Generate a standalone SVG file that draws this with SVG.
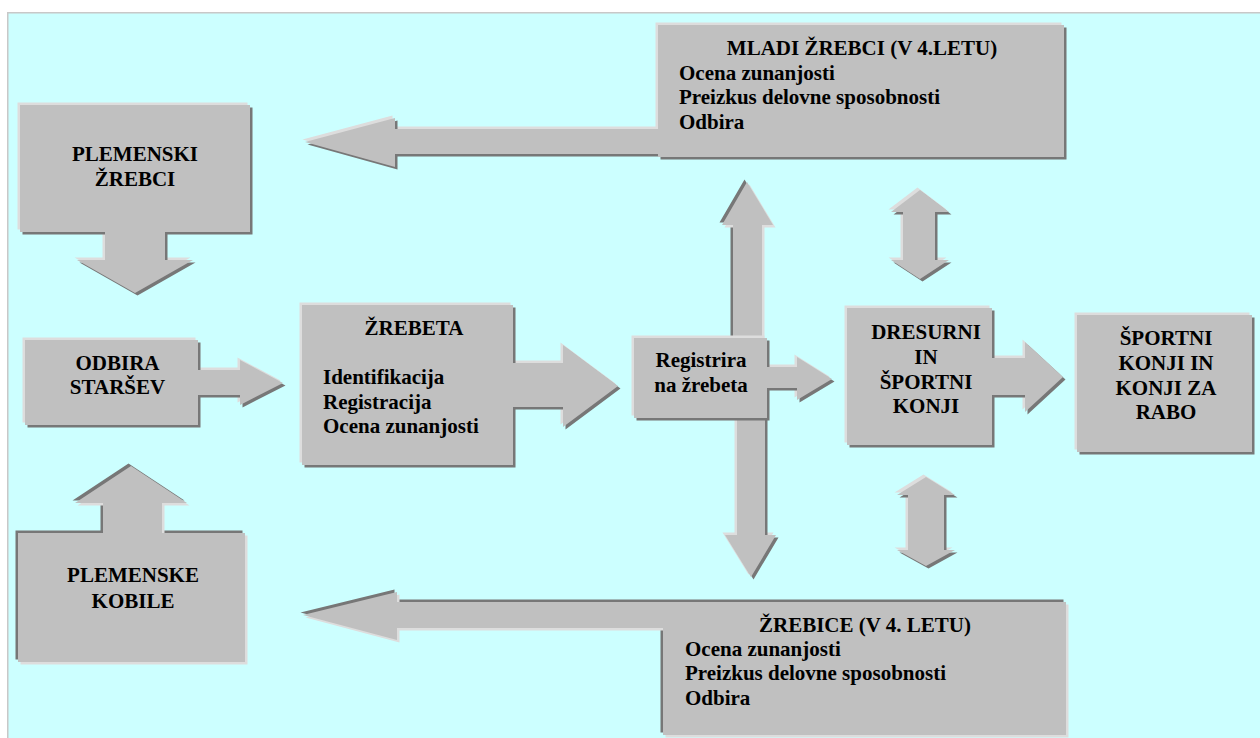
<svg xmlns="http://www.w3.org/2000/svg" xmlns:xlink="http://www.w3.org/1999/xlink" width="1260" height="738" viewBox="0 0 1260 738" font-family="'Liberation Serif', 'Times New Roman', 'DejaVu Serif', serif">
<style>
.fc{fill:#C0C0C0}
.dk{fill:#777777}
.lt{fill:#DDDDDD}
.t{font-family:'Liberation Serif','Times New Roman','DejaVu Serif',serif;font-weight:bold;font-size:21px;fill:#000}
.c{text-anchor:middle}
</style>
<defs>
<path id="p-zrebci" d="M20,105 H250 V232 H165 V260 H193 L135,293 L77,260 H105 V232 H20 Z"/>
<path id="p-odbira" d="M25,340 H198 V370 H240 V360 L283,383 L240,405 V395 H198 V425 H25 Z"/>
<path id="p-kobile" d="M18,533 H103 V503 H75 L131,466 L187,503 H162 V533 H245 V662 H18 Z"/>
<path id="p-zrebeta" d="M302,305 H513 V363 H563 V345 L618,386 L563,427 V407 H513 V465 H302 Z"/>
<path id="p-reg" d="M634,338 H767 V367 H797 V357 L832,379 L797,400 V388 H767 V418 H634 Z"/>
<path id="p-dres" d="M847,308 H992 V358 H1025 V342 L1063,377 L1025,412 V395 H992 V445 H847 Z"/>
<path id="p-sport" d="M1077,315 H1252 V452 H1077 Z"/>
<path id="p-mladi" d="M658,25 H1064 V157 H658 V154 H395 V167 L305,142 L395,118 V129 H658 Z"/>
<path id="p-zrebice" d="M663,602 H1066 V735 H663 V628 H397 V640 L303,615 L397,592 V602 H663 Z"/>
<path id="a-up" d="M733,385 V225 H722 L747,182 L773,225 H762 V385 Z"/>
<path id="a-down" d="M737,375 V535 H725 L751,577 L776,535 H765 V375 Z"/>
<path id="a-dbl1" d="M920,190 L949,212 H935 V260 H949 L920,279 L891,260 H903 V212 H891 Z"/>
<path id="a-dbl2" d="M926,477 L955,495 H944 V550 H955 L926,566 L897,550 H908 V495 H897 Z"/>
</defs>

<rect x="0" y="0" width="1260" height="738" fill="#FFFFFF"/>
<rect x="7.75" y="12.75" width="1262" height="740" fill="#CCFFFF" stroke="#C8C8C8" stroke-width="1.5"/>

<g id="connectors">
  <g id="arrow-up-mladi">
    <use xlink:href="#a-up" class="dk" transform="translate(-2.5,-2.5)"/>
    <use xlink:href="#a-up" class="lt" transform="translate(2.5,2.5)"/>
    <use xlink:href="#a-up" class="fc"/>
  </g>
  <g id="arrow-down-zrebice">
    <use xlink:href="#a-down" class="lt" transform="translate(-2.5,-2.5)"/>
    <use xlink:href="#a-down" class="dk" transform="translate(2.5,2.5)"/>
    <use xlink:href="#a-down" class="fc"/>
  </g>
  <g id="arrow-dbl-upper">
    <use xlink:href="#a-dbl1" class="lt" transform="translate(-2.5,-2.5)"/>
    <use xlink:href="#a-dbl1" class="dk" transform="translate(2.5,2.5)"/>
    <use xlink:href="#a-dbl1" class="fc"/>
  </g>
  <g id="arrow-dbl-lower">
    <use xlink:href="#a-dbl2" class="lt" transform="translate(-2.5,-2.5)"/>
    <use xlink:href="#a-dbl2" class="dk" transform="translate(2.5,2.5)"/>
    <use xlink:href="#a-dbl2" class="fc"/>
  </g>
</g>

<g id="plemenski-zrebci">
  <use xlink:href="#p-zrebci" class="lt" transform="translate(-2.5,-2.5)"/>
  <use xlink:href="#p-zrebci" class="dk" transform="translate(2.5,2.5)"/>
  <use xlink:href="#p-zrebci" class="fc"/>
  <text class="t c" x="135" y="161">PLEMENSKI</text>
  <text class="t c" x="135" y="186">ŽREBCI</text>
</g>

<g id="odbira-starsev">
  <use xlink:href="#p-odbira" class="lt" transform="translate(-2.5,-2.5)"/>
  <use xlink:href="#p-odbira" class="dk" transform="translate(2.5,2.5)"/>
  <use xlink:href="#p-odbira" class="fc"/>
  <text class="t c" x="117.5" y="370">ODBIRA</text>
  <text class="t c" x="117.5" y="394">STARŠEV</text>
</g>

<g id="plemenske-kobile">
  <use xlink:href="#p-kobile" class="dk" transform="translate(-2.5,-2.5)"/>
  <use xlink:href="#p-kobile" class="lt" transform="translate(2.5,2.5)"/>
  <use xlink:href="#p-kobile" class="fc"/>
  <text class="t c" x="133" y="582">PLEMENSKE</text>
  <text class="t c" x="133" y="608">KOBILE</text>
</g>

<g id="zrebeta">
  <use xlink:href="#p-zrebeta" class="lt" transform="translate(-2.5,-2.5)"/>
  <use xlink:href="#p-zrebeta" class="dk" transform="translate(2.5,2.5)"/>
  <use xlink:href="#p-zrebeta" class="fc"/>
  <text class="t c" x="414" y="335">ŽREBETA</text>
  <text class="t" x="323" y="384">Identifikacija</text>
  <text class="t" x="323" y="409">Registracija</text>
  <text class="t" x="323" y="433">Ocena zunanjosti</text>
</g>

<g id="registrira">
  <use xlink:href="#p-reg" class="lt" transform="translate(-2.5,-2.5)"/>
  <use xlink:href="#p-reg" class="dk" transform="translate(2.5,2.5)"/>
  <use xlink:href="#p-reg" class="fc"/>
  <text class="t c" x="701" y="367">Registrira</text>
  <text class="t c" x="701" y="392">na žrebeta</text>
</g>

<g id="dresurni">
  <use xlink:href="#p-dres" class="lt" transform="translate(-2.5,-2.5)"/>
  <use xlink:href="#p-dres" class="dk" transform="translate(2.5,2.5)"/>
  <use xlink:href="#p-dres" class="fc"/>
  <text class="t c" x="926" y="339">DRESURNI</text>
  <text class="t c" x="926" y="364">IN</text>
  <text class="t c" x="926" y="389">ŠPORTNI</text>
  <text class="t c" x="926" y="413">KONJI</text>
</g>

<g id="sportni-konji">
  <use xlink:href="#p-sport" class="lt" transform="translate(-2.5,-2.5)"/>
  <use xlink:href="#p-sport" class="dk" transform="translate(2.5,2.5)"/>
  <use xlink:href="#p-sport" class="fc"/>
  <text class="t c" x="1166" y="345">ŠPORTNI</text>
  <text class="t c" x="1166" y="370">KONJI IN</text>
  <text class="t c" x="1166" y="395">KONJI ZA</text>
  <text class="t c" x="1166" y="419">RABO</text>
</g>

<g id="mladi-zrebci">
  <use xlink:href="#p-mladi" class="lt" transform="translate(-2.5,-2.5)"/>
  <use xlink:href="#p-mladi" class="dk" transform="translate(2.5,2.5)"/>
  <use xlink:href="#p-mladi" class="fc"/>
  <text class="t c" x="862" y="55">MLADI ŽREBCI (V 4.LETU)</text>
  <text class="t" x="679" y="80">Ocena zunanjosti</text>
  <text class="t" x="679" y="104">Preizkus delovne sposobnosti</text>
  <text class="t" x="679" y="129">Odbira</text>
</g>

<g id="zrebice">
  <use xlink:href="#p-zrebice" class="dk" transform="translate(-2.5,-2.5)"/>
  <use xlink:href="#p-zrebice" class="lt" transform="translate(2.5,2.5)"/>
  <use xlink:href="#p-zrebice" class="fc"/>
  <text class="t c" x="865" y="632">ŽREBICE (V 4. LETU)</text>
  <text class="t" x="685" y="656">Ocena zunanjosti</text>
  <text class="t" x="685" y="680">Preizkus delovne sposobnosti</text>
  <text class="t" x="685" y="705">Odbira</text>
</g>
</svg>
